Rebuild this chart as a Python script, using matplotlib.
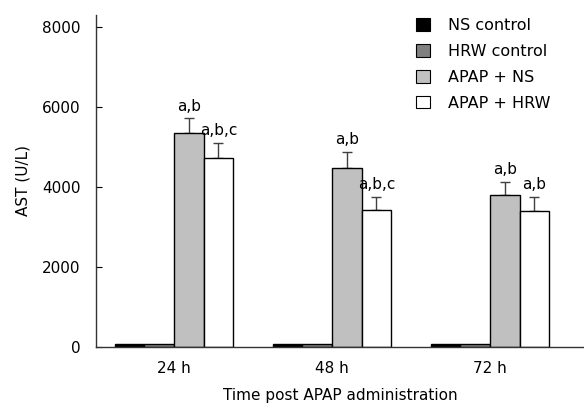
import numpy as np
import matplotlib
matplotlib.use("Agg")
import matplotlib.pyplot as plt
from matplotlib.patches import Patch

# data
timepoints = ["24 h", "48 h", "72 h"]
groups = ["NS control", "HRW control", "APAP + NS", "APAP + HRW"]
ns_control = [75, 75, 75]
hrw_control = [70, 70, 70]
apap_ns = [5350, 4480, 3800]
apap_hrw = [4720, 3430, 3390]
apap_ns_err = [370, 400, 330]
apap_hrw_err = [390, 330, 370]
apap_ns_sig = ["a,b", "a,b", "a,b"]
apap_hrw_sig = ["a,b,c", "a,b,c", "a,b"]

colors = ["#000000", "#808080", "#c0c0c0", "#ffffff"]

plt.rcParams["font.family"] = ["DejaVu Sans"]

fig = plt.figure(figsize=(5.84, 4.07), dpi=100)
ax = fig.add_axes([96 / 584, 60 / 407, 1 - 96 / 584, 332 / 407])

x = np.arange(len(timepoints))
w = 0.187
series = [ns_control, hrw_control, apap_ns, apap_hrw]
errs = [None, None, apap_ns_err, apap_hrw_err]
sigs = [None, None, apap_ns_sig, apap_hrw_sig]

for i, (vals, col) in enumerate(zip(series, colors)):
    pos = x + (i - 1.5) * w
    ax.bar(pos, vals, width=w, color=col, edgecolor="black", linewidth=1.0, zorder=2)
    if errs[i] is not None:
        ax.errorbar(pos, vals, yerr=[np.zeros(len(vals)), errs[i]], fmt="none",
                    ecolor="#404040", elinewidth=1.0, capsize=3.5, capthick=1.0, zorder=1)
        for p, v, e, s in zip(pos, vals, errs[i], sigs[i]):
            ax.text(p, v + e + 110, s, ha="center", va="bottom", fontsize=11)

ax.set_xlim(-0.494, 2.595)
ax.set_ylim(0, 8300)
ax.set_yticks([0, 2000, 4000, 6000, 8000])
ax.set_xticks(x)
ax.set_xticklabels(timepoints)
ax.tick_params(axis="y", direction="in", length=4, labelsize=11, pad=11)
ax.tick_params(axis="x", length=0, labelsize=11, pad=10)
ax.set_ylabel("AST (U/L)", fontsize=11, labelpad=8)
ax.set_xlabel("Time post APAP administration", fontsize=11, labelpad=9)

ax.spines["top"].set_visible(False)
ax.spines["right"].set_visible(False)
for sp in ["left", "bottom"]:
    ax.spines[sp].set_color("#333333")
    ax.spines[sp].set_linewidth(1.0)

handles = [Patch(facecolor=c, edgecolor="black", linewidth=0.8) for c in colors]
ax.legend(handles, groups, loc="upper left", bbox_to_anchor=(416 / 584, 1 - 18 / 407),
          bbox_transform=fig.transFigure, frameon=False, borderpad=0, borderaxespad=0,
          fontsize=11.5, handlelength=0.85, handleheight=0.85, handletextpad=1.15,
          labelspacing=0.68)

fig.savefig("out.png", dpi=100)
